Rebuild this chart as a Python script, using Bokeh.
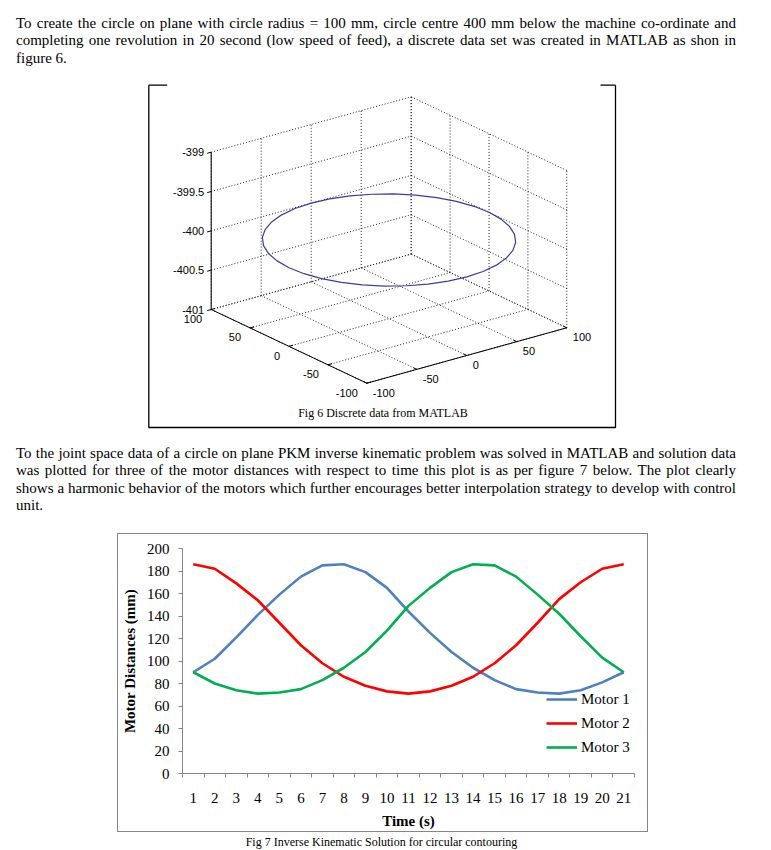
from bokeh.plotting import figure
from bokeh.models import Div, Range1d, FixedTicker
from bokeh.layouts import column
from bokeh.embed import file_html
from bokeh.resources import INLINE
from bokeh.core.properties import value

# ---------------- texts ----------------
para1_lines = [
    "To create the circle on plane with circle radius = 100 mm, circle centre 400 mm below the machine co-ordinate and",
    "completing one revolution in 20 second (low speed of feed), a discrete data set was created in MATLAB as shon in",
    "figure 6.",
]
para2_lines = [
    "To the joint space data of a circle on plane PKM inverse kinematic problem was solved in MATLAB and solution data",
    "was plotted for three of the motor distances with respect to time this plot is as per figure 7 below. The plot clearly",
    "shows a harmonic behavior of the motors which further encourages better interpolation strategy to develop with control",
    "unit.",
]
fig6_caption = "Fig 6 Discrete data from MATLAB"
fig7_caption = "Fig 7 Inverse Kinematic Solution for circular contouring"

# ---------------- figure 6 data (3D circle) ----------------
x_ticks3d = [-100, -50, 0, 50, 100]
y_ticks3d = [-100, -50, 0, 50, 100]
z_ticks3d = [-401, -400.5, -400, -399.5, -399]
x_tick_labels3d = ["-100", "-50", "0", "50", "100"]
y_tick_labels3d = ["-100", "-50", "0", "50", "100"]
z_tick_labels3d = ["-401", "-400.5", "-400", "-399.5", "-399"]
circle_x = [100.0, 98.5, 94.0, 86.6, 76.6, 64.3, 50.0, 34.2, 17.4, 0.0, -17.4, -34.2, -50.0,
            -64.3, -76.6, -86.6, -94.0, -98.5, -100.0, -98.5, -94.0, -86.6, -76.6, -64.3,
            -50.0, -34.2, -17.4, 0.0, 17.4, 34.2, 50.0, 64.3, 76.6, 86.6, 94.0, 98.5, 100.0]
circle_y = [0.0, 17.4, 34.2, 50.0, 64.3, 76.6, 86.6, 94.0, 98.5, 100.0, 98.5, 94.0, 86.6,
            76.6, 64.3, 50.0, 34.2, 17.4, 0.0, -17.4, -34.2, -50.0, -64.3, -76.6,
            -86.6, -94.0, -98.5, -100.0, -98.5, -94.0, -86.6, -76.6, -64.3, -50.0, -34.2, -17.4, 0.0]
circle_z = -400.0

# ---------------- figure 7 data ----------------
time_s = [1, 2, 3, 4, 5, 6, 7, 8, 9, 10, 11, 12, 13, 14, 15, 16, 17, 18, 19, 20, 21]
time_labels = [str(t) for t in time_s]
motor1 = [90, 102, 121, 141, 159, 175, 185, 186, 179, 165, 144, 125, 108, 94, 83, 75, 72, 71, 74, 81, 90]
motor2 = [186, 182, 169, 154, 134, 114, 98, 86, 78, 73, 71, 73, 78, 86, 98, 114, 134, 155, 170, 182, 186]
motor3 = [90, 80, 74, 71, 72, 75, 83, 94, 108, 127, 149, 165, 179, 186, 185, 175, 159, 142, 122, 103, 90]
series_names = ["Motor 1", "Motor 2", "Motor 3"]
series_colors = ["#4f81bd", "#ff0000", "#00b050"]
y_ticks7 = [0, 20, 40, 60, 80, 100, 120, 140, 160, 180, 200]

SERIF = "Liberation Serif"
SANS = "Liberation Sans"
PAGE_W = 771


def para_div(lines, pad_top, height):
    parts = []
    for i, ln in enumerate(lines):
        last = "left" if i == len(lines) - 1 else "justify"
        parts.append('<div style="text-align:justify;text-align-last:%s;">%s</div>' % (last, ln))
    html = ('<div style="font-family:\'%s\';font-size:15px;line-height:17.5px;color:#000;'
            'padding:%spx 0 0 16px;width:736px;">' % (SERIF, pad_top)) + "".join(parts) + "</div>"
    return Div(text=html, width=PAGE_W, height=height, margin=(0, 0, 0, 0))


div1 = para_div(para1_lines, 14.5, 80)
div2 = para_div(para2_lines, 12.5, 96)

# ---------------- figure 6: projected 3D view (page pixel frame) ----------------
p6 = figure(frame_width=PAGE_W, frame_height=352, x_range=Range1d(0, PAGE_W), y_range=Range1d(432, 80),
            x_axis_type=None, y_axis_type=None, min_border=0, output_backend="svg",
            toolbar_location=None, outline_line_color=None, margin=(0, 0, 0, 0))
p6.grid.visible = False

# affine view projection
XMIN, YMIN, ZMIN = x_ticks3d[0], y_ticks3d[0], z_ticks3d[0]
XMAX, YMAX, ZMAX = x_ticks3d[-1], y_ticks3d[-1], z_ticks3d[-1]
ORG_X, ORG_Y = 366.3, 382.7
AX, AY = 1.0, -0.778
BX, BY, BZ = -0.277, -0.3685, -78.65


def proj(x, y, z):
    return (ORG_X + AX * (x - XMIN) + AY * (y - YMIN),
            ORG_Y + BX * (x - XMIN) + BY * (y - YMIN) + BZ * (z - ZMIN))


gxs, gys = [], []


def gseg(a, b, xs=gxs, ys=gys):
    X1, Y1 = proj(*a)
    X2, Y2 = proj(*b)
    xs.append([X1, X2])
    ys.append([Y1, Y2])


for xv in x_ticks3d:
    gseg((xv, YMIN, ZMIN), (xv, YMAX, ZMIN))
    gseg((xv, YMAX, ZMIN), (xv, YMAX, ZMAX))
for yv in y_ticks3d:
    gseg((XMIN, yv, ZMIN), (XMAX, yv, ZMIN))
    gseg((XMAX, yv, ZMIN), (XMAX, yv, ZMAX))
for zv in z_ticks3d:
    gseg((XMIN, YMAX, zv), (XMAX, YMAX, zv))
    gseg((XMAX, YMIN, zv), (XMAX, YMAX, zv))
p6.multi_line(gxs, gys, line_color="#222222", line_width=1, line_dash="1 2")

axs, ays = [], []
gseg((XMIN, YMIN, ZMIN), (XMAX, YMIN, ZMIN), axs, ays)
gseg((XMIN, YMIN, ZMIN), (XMIN, YMAX, ZMIN), axs, ays)
gseg((XMIN, YMAX, ZMIN), (XMIN, YMAX, ZMAX), axs, ays)
TL = 4
for xv in x_ticks3d:
    gseg((xv, YMIN, ZMIN), (xv, YMIN + TL, ZMIN), axs, ays)
for yv in y_ticks3d:
    gseg((XMIN, yv, ZMIN), (XMIN + TL, yv, ZMIN), axs, ays)
for zv in z_ticks3d:
    gseg((XMIN, YMAX, zv), (XMIN - TL, YMAX, zv), axs, ays)
p6.multi_line(axs, ays, line_color="#000000", line_width=1)

cpts = [proj(cx, cy, circle_z) for cx, cy in zip(circle_x, circle_y)]
p6.line([c[0] for c in cpts], [c[1] for c in cpts], line_color="#3c3c9e", line_width=1.2)

zl = [proj(XMIN, YMAX, zv) for zv in z_ticks3d]
p6.text([q[0] - 7 for q in zl], [q[1] for q in zl], text=z_tick_labels3d, text_align="right",
        text_baseline="middle", text_font=value(SANS), text_font_size="11px", text_color="#000000")
yl = [proj(XMIN, yv, ZMIN) for yv in y_ticks3d]
p6.text([q[0] - 9 for q in yl], [q[1] + 9.5 for q in yl], text=y_tick_labels3d, text_align="right",
        text_baseline="middle", text_font=value(SANS), text_font_size="11px", text_color="#000000")
xl = [proj(xv, YMIN, ZMIN) for xv in x_ticks3d]
p6.text([q[0] + 6 for q in xl], [q[1] + 9.5 for q in xl], text=x_tick_labels3d, text_align="left",
        text_baseline="middle", text_font=value(SANS), text_font_size="11px", text_color="#000000")

# frame of the figure image
BL, BR, BT, BB = 148.3, 615.0, 84.7, 427.0
p6.multi_line([[BL, BL, BR, BR], [BL, 166.7], [600.0, BR]],
              [[BT, BB, BB, BT], [BT, BT], [BT, BT]], line_color="#000000", line_width=1.3)
p6.text([382.5], [412.3], text=[fig6_caption], text_align="center", text_baseline="middle",
        text_font=value(SERIF), text_font_size="12px", text_color="#000000")

# ---------------- figure 7: line chart ----------------
p7 = figure(frame_width=452, frame_height=225, min_border_left=60, min_border_right=13,
            min_border_top=14, min_border_bottom=54, x_range=Range1d(0.5, 21.5), y_range=Range1d(0, 200),
            output_backend="svg", toolbar_location=None, outline_line_color=None, margin=(0, 0, 0, 0))
p7.grid.visible = False
for ys, name, col in zip([motor1, motor2, motor3], series_names, series_colors):
    p7.line(time_s, ys, line_color=col, line_width=2.6, line_join="round", legend_label=name)

GRAY = "#868686"
xa = p7.xaxis[0]
xa.ticker = FixedTicker(ticks=time_s, minor_ticks=[t - 0.5 for t in time_s] + [time_s[-1] + 0.5])
xa.major_label_overrides = {t: l for t, l in zip(time_s, time_labels)}
xa.major_tick_out = 0
xa.major_tick_in = 0
xa.minor_tick_out = 4
xa.minor_tick_in = 0
xa.minor_tick_line_color = GRAY
xa.axis_line_color = GRAY
xa.major_label_standoff = 15
xa.axis_label = "Time (s)"
xa.axis_label_standoff = 7

ya = p7.yaxis[0]
ya.ticker = FixedTicker(ticks=y_ticks7)
ya.major_tick_out = 4
ya.major_tick_in = 0
ya.major_tick_line_color = GRAY
ya.minor_tick_line_color = None
ya.axis_line_color = GRAY
ya.major_label_standoff = 9
ya.axis_label = "Motor Distances (mm)"
ya.axis_label_standoff = 6

for ax in (xa, ya):
    ax.major_label_text_font = SERIF
    ax.major_label_text_font_size = "15px"
    ax.major_label_text_color = "#000000"
    ax.axis_label_text_font = SERIF
    ax.axis_label_text_font_size = "15px"
    ax.axis_label_text_font_style = "bold"
    ax.axis_label_text_color = "#000000"

lg = p7.legend[0]
lg.location = (364, 14)
lg.padding = 0
lg.margin = 0
lg.spacing = 0
lg.glyph_width = 31
lg.glyph_height = 24
lg.label_height = 24
lg.label_standoff = 4
lg.label_text_font = SERIF
lg.label_text_font_size = "15px"
lg.label_text_color = "#000000"
lg.border_line_color = None
lg.background_fill_alpha = 0

box7 = column(p7, margin=(5, 0, 0, 117), styles={"border": "1.5px solid #868686"})

cap7 = Div(text=('<div style="font-family:\'%s\';font-size:12px;line-height:14px;color:#000;'
                 'text-align:center;width:763px;padding-top:3px;">%s</div>') % (SERIF, fig7_caption),
           width=PAGE_W, height=18, margin=(0, 0, 0, 0))

open("out.html", "w").write(file_html([div1, p6, div2, box7, cap7], INLINE))
